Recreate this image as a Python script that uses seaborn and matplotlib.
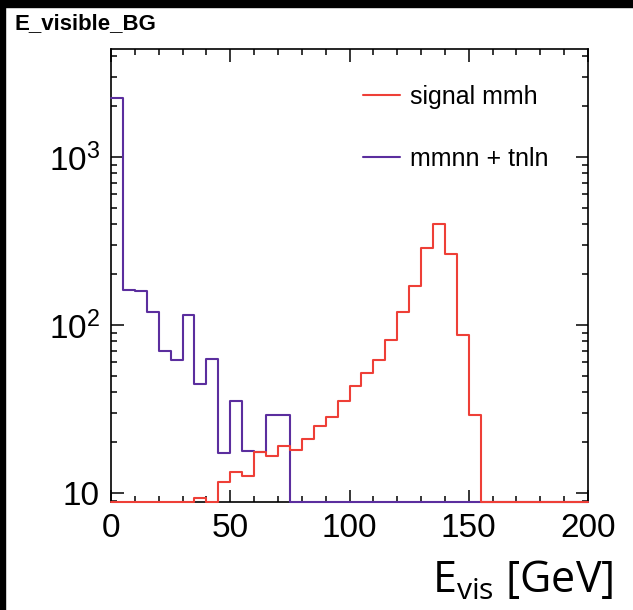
import numpy as np
import pandas as pd
import matplotlib
matplotlib.use('Agg')
import matplotlib.pyplot as plt
import seaborn as sns
from matplotlib.lines import Line2D
from matplotlib.patches import Rectangle
from matplotlib import ticker

# 5 GeV bins from 0 to 200
bin_edges = np.arange(0, 205, 5)
bin_centers = bin_edges[:-1] + 2.5

signal_mmh = [0, 0, 0, 0, 0, 0, 0, 9.3, 8.9, 11.6,
              13.4, 12.6, 17.6, 16.7, 19.0, 18.0, 20.9, 25.0, 28.3, 35.3,
              43.5, 51.6, 62.2, 81.1, 119, 171, 286, 399, 263, 87.1,
              29.1, 0, 0, 0, 0, 0, 0, 0, 0, 0]
bg_mmnn_tnln = [2254, 162, 160, 119, 70, 62, 114, 44.6, 62.5, 17.4,
                35.3, 17.8, 17.6, 29.1, 29.1, 0, 0, 0, 0, 0,
                0, 0, 0, 0, 0, 0, 0, 0, 0, 0,
                0, 0, 0, 0, 0, 0, 0, 0, 0, 0]

labels = ['signal mmh', 'mmnn + tnln']
colors = ['#EE3F37', '#5B2E9E']

y_min, y_max = 8.84, 4390


def draw_plot():
    sns.set_style('ticks')
    plt.rcParams['font.family'] = ['Liberation Sans', 'DejaVu Sans']
    plt.rcParams['text.color'] = 'black'
    plt.rcParams['xtick.color'] = 'black'
    plt.rcParams['ytick.color'] = 'black'

    fig = plt.figure(figsize=(6.33, 6.10), dpi=100)
    ax = fig.add_axes([111 / 633, 1 - 502 / 610, 477 / 633, 453 / 610])

    # empty bins are drawn on the lower edge, like ROOT does
    df = pd.DataFrame({
        'E': bin_centers,
        'bg': np.maximum(np.array(bg_mmnn_tnln, dtype=float), y_min),
        'sig': np.maximum(np.array(signal_mmh, dtype=float), y_min),
    })

    sns.histplot(data=df, x='E', weights='bg', bins=list(bin_edges), element='step',
                 fill=False, color=colors[1], linewidth=1.5, clip_on=False,
                 zorder=3, ax=ax)
    sns.histplot(data=df, x='E', weights='sig', bins=list(bin_edges), element='step',
                 fill=False, color=colors[0], linewidth=1.5, clip_on=False,
                 zorder=4, ax=ax)

    ax.set_yscale('log')
    ax.set_xlim(0, 200)
    ax.set_ylim(y_min, y_max)
    ax.set_xlabel('')
    ax.set_ylabel('')

    ax.xaxis.set_major_locator(ticker.MultipleLocator(50))
    ax.xaxis.set_minor_locator(ticker.MultipleLocator(10))
    ax.yaxis.set_major_locator(ticker.LogLocator(base=10))
    ax.yaxis.set_minor_locator(ticker.LogLocator(base=10, subs=np.arange(2, 10)))
    ax.yaxis.set_minor_formatter(ticker.NullFormatter())

    def log_fmt(v, pos):
        e = int(round(np.log10(v)))
        if e == 1:
            return '10'
        return r'$\mathregular{10^{%d}}$' % e
    ax.yaxis.set_major_formatter(ticker.FuncFormatter(log_fmt))

    ax.tick_params(which='both', direction='in', top=True, right=True,
                   width=1.1, color='black', labelcolor='black')
    ax.tick_params(which='major', length=9)
    ax.tick_params(which='minor', length=4.5)
    ax.tick_params(axis='x', which='major', labelsize=24, pad=8)
    ax.tick_params(axis='y', which='major', labelsize=24, pad=8)
    for s in ax.spines.values():
        s.set_linewidth(1.2)
        s.set_color('black')
        s.set_zorder(2)

    handles = [Line2D([], [], color=c, linewidth=1.5) for c in colors]
    ax.legend(handles, labels, loc='upper left', bbox_to_anchor=(0.528, 0.92),
              frameon=False, fontsize=18, handlelength=1.5, handletextpad=0.4,
              labelspacing=1.5, borderpad=0, borderaxespad=0)

    fig.text(613 / 633, 1 - 593 / 610, r'$\mathregular{E_{vis}}$ [GeV]',
             ha='right', va='baseline', fontsize=31, family='Open Sans',
             color='black')
    fig.text(14 / 633, 1 - 29 / 610, 'E_visible_BG', ha='left', va='baseline',
             fontsize=16, fontweight='bold', color='black')

    # black frame strips on the top and left edges
    fig.add_artist(Rectangle((0, 1 - 7 / 610), 1, 7 / 610, transform=fig.transFigure,
                             color='black', zorder=10))
    fig.add_artist(Rectangle((0, 0), 5 / 633, 1, transform=fig.transFigure,
                             color='black', zorder=10))

    plt.savefig('out.png', dpi=100)


draw_plot()
